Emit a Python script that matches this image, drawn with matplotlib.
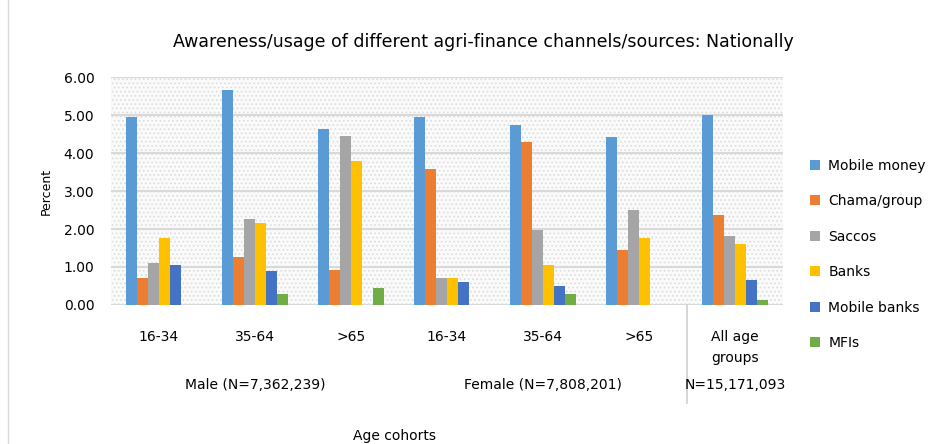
import matplotlib
matplotlib.use("Agg")
from matplotlib import pyplot as plt
from matplotlib.lines import Line2D
from matplotlib.patches import Rectangle
import numpy as np

plt.rcParams['hatch.linewidth'] = 0.7
plt.rcParams['font.family'] = ['DejaVu Sans']

cohorts = ['16-34', '35-64', '>65', '16-34', '35-64', '>65', 'All age\ngroups']
groups = ['Male (N=7,362,239)', 'Female (N=7,808,201)', 'N=15,171,093']
group_centers = [1, 4, 6]

mobile_money = [4.95, 5.65, 4.64, 4.95, 4.74, 4.43, 5.00]
chama_group = [0.70, 1.26, 0.91, 3.59, 4.29, 1.45, 2.37]
saccos = [1.11, 2.27, 4.44, 0.70, 1.97, 2.51, 1.81]
banks = [1.76, 2.16, 3.79, 0.70, 1.05, 1.76, 1.61]
mobile_banks = [1.05, 0.90, 0.00, 0.60, 0.50, 0.00, 0.65]
mfis = [0.00, 0.29, 0.45, 0.00, 0.29, 0.00, 0.14]

series = {
    'Mobile money': (mobile_money, '#5B9BD5'),
    'Chama/group': (chama_group, '#ED7D31'),
    'Saccos': (saccos, '#A5A5A5'),
    'Banks': (banks, '#FFC000'),
    'Mobile banks': (mobile_banks, '#4472C4'),
    'MFIs': (mfis, '#70AD47'),
}

fig = plt.figure(figsize=(9.45, 4.44), dpi=100)
ax = fig.add_axes([111 / 945, 139 / 444, 672 / 945, 228 / 444])
ax.set_facecolor('#fafafa')
# dotted background texture of the plot area
ax.add_patch(Rectangle((0, 0), 1, 1, transform=ax.transAxes, facecolor='none',
                       edgecolor='#dcdcdc', lw=0, hatch='....', zorder=0))

x = np.arange(len(cohorts))
w = 0.115
for i, (name, (vals, col)) in enumerate(series.items()):
    ax.bar(x + (i - 2.5) * w, vals, w, color=col, label=name, zorder=3)

ax.set_xlim(-0.5, len(cohorts) - 0.5)
ax.set_ylim(0, 6)
ax.set_yticks(np.arange(0, 7, 1))
ax.set_yticklabels(['%.2f' % v for v in np.arange(0, 7, 1)], fontsize=10)
ax.set_xticks(x)
ax.set_xticklabels(cohorts, fontsize=10, linespacing=1.6)
ax.tick_params(axis='both', length=0)
ax.tick_params(axis='x', pad=18)
ax.tick_params(axis='y', pad=12)
ax.grid(axis='y', color='#d9d9d9', lw=1.5, zorder=1)
ax.set_axisbelow(True)
for s in ax.spines.values():
    s.set_visible(False)

tr = ax.get_xaxis_transform()
for g, c in zip(groups, group_centers):
    ax.text(c, -0.35, g, transform=tr, ha='center', va='center', fontsize=10)
ax.axvline(5.5, ymin=-0.43, ymax=0, color='#d0d0d0', lw=1.2, clip_on=False)

ax.set_ylabel('Percent', fontsize=9, labelpad=8)

fig.text(483 / 945, 1 - 42 / 444,
         'Awareness/usage of different agri-finance channels/sources: Nationally',
         ha='center', va='center', fontsize=12.5)
fig.text(395 / 945, 1 - 436 / 444, 'Age cohorts', ha='center', va='center', fontsize=10)

fig.legend(loc='upper left', bbox_to_anchor=(804 / 945, 1 - 153 / 444),
           frameon=False, fontsize=10, handlelength=0.75, handleheight=0.75,
           handletextpad=0.6, labelspacing=1.55, borderaxespad=0)

fig.add_artist(Line2D([8 / 945, 8 / 945], [0, 1], transform=fig.transFigure,
                      color='#d9d9d9', lw=1))

fig.savefig('out.png', dpi=100)
